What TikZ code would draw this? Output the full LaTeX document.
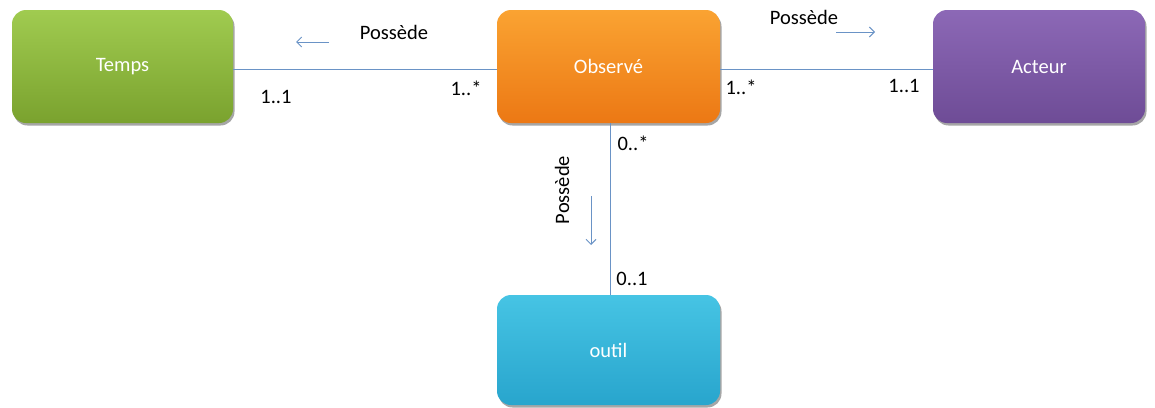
\documentclass[tikz,border=0pt]{standalone}
\usepackage{fontspec}
\setmainfont{Carlito}
\usetikzlibrary{arrows.meta,shadows}
\definecolor{lineblue}{HTML}{6A93C6}
\tikzset{
  box/.style={rounded corners=14pt, minimum width=#1, text=white, font=\fontsize{20.5}{24}\selectfont,
    drop shadow={shadow xshift=1.5pt, shadow yshift=-2.5pt, opacity=0.35, fill=black}},
  greenbox/.style={box=221pt, minimum height=113pt, top color={rgb,255:red,160;green,203;blue,80}, bottom color={rgb,255:red,122;green,162;blue,46}},
  orangebox/.style={box=223pt, minimum height=113pt, top color={rgb,255:red,250;green,163;blue,50}, bottom color={rgb,255:red,236;green,120;blue,20}},
  purplebox/.style={box=212pt, minimum height=113pt, top color={rgb,255:red,140;green,104;blue,182}, bottom color={rgb,255:red,110;green,76;blue,150}},
  cyanbox/.style={box=223pt, minimum height=110pt, top color={rgb,255:red,70;green,196;blue,228}, bottom color={rgb,255:red,40;green,165;blue,205}},
  link/.style={draw=lineblue, line width=1pt},
  dirarrow/.style={draw=lineblue, line width=1pt, -{Straight Barb[length=5pt,width=10pt]}},
  lbl/.style={font=\fontsize{20.5}{24}\selectfont, text=black, inner sep=0pt}
}
\begin{document}
\begin{tikzpicture}[x=1pt,y=-1pt]
\useasboundingbox (0,0) rectangle (1155,407);
\node[greenbox] (temps) at (122.5,66.5) {Temps};
\node[orangebox] (obs) at (608.5,66.5) {Observé};
\node[purplebox] (acteur) at (1039,66.5) {Acteur};
\node[cyanbox] (outil) at (608.5,350) {outil};

\coordinate (oL) at (obs.west |- 0,69);
\coordinate (tR) at (temps.east |- 0,69);
\coordinate (oR) at (obs.east |- 0,69);
\coordinate (aL) at (acteur.west |- 0,69);
\coordinate (oB) at (610,0 |- obs.south);
\coordinate (uT) at (610,0 |- outil.north);
\draw[link] (tR) -- (oL);
\draw[link] (oR) -- (aL);
\draw[link] (oB) -- (uT);

\node[lbl] (p1) at (394,32) {Possède};
\coordinate (a1s) at (329,42);
\coordinate (a1e) at (296,42);
\draw[dirarrow] (a1s) -- (a1e);
\node[lbl] (m1) at (276,97) {1..1};
\node[lbl] (m2) at (466,88) {1..*};

\node[lbl] (p2) at (804,17) {Possède};
\coordinate (a2s) at (836,32);
\coordinate (a2e) at (875,32);
\draw[dirarrow] (a2s) -- (a2e);
\node[lbl] (m3) at (741,87) {1..*};
\node[lbl] (m4) at (904,86) {1..1};

\node[lbl, rotate=90] (p3) at (562,190) {Possède};
\coordinate (a3s) at (591,196);
\coordinate (a3e) at (591,245);
\draw[dirarrow] (a3s) -- (a3e);
\node[lbl] (m5) at (633,143) {0..*};
\node[lbl] (m6) at (632,279) {0..1};
\end{tikzpicture}
\end{document}
